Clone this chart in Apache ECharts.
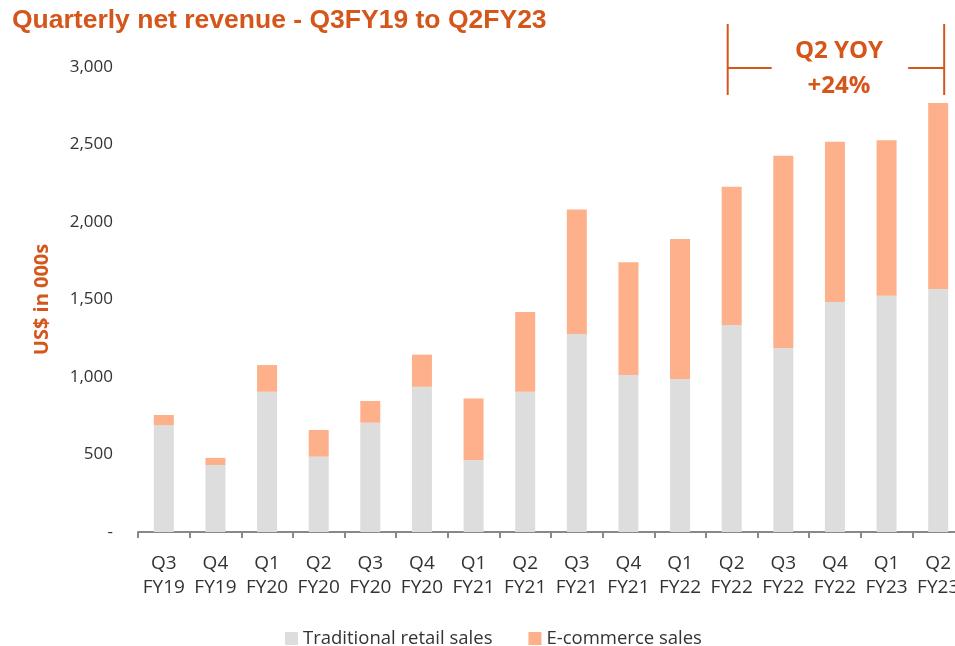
<!DOCTYPE html>
<html>
<head>
<meta charset="utf-8">
<script src="https://cdn.jsdelivr.net/npm/echarts@6/dist/echarts.min.js"></script>
<style>
  html, body { margin: 0; padding: 0; background: #fff; overflow: hidden; }
  /* a bit wider than the window: the last bar is cut at the right edge */
  #chart { width: 964px; height: 646px; }
</style>
</head>
<body>
<div id="chart"></div>
<script>
// quarters (two-line labels)
var quarters = ['Q3\nFY19', 'Q4\nFY19', 'Q1\nFY20', 'Q2\nFY20', 'Q3\nFY20', 'Q4\nFY20',
    'Q1\nFY21', 'Q2\nFY21', 'Q3\nFY21', 'Q4\nFY21', 'Q1\nFY22', 'Q2\nFY22',
    'Q3\nFY22', 'Q4\nFY22', 'Q1\nFY23', 'Q2\nFY23'];
// traditional retail (US$ 000s)
var retailSales = [690, 432, 905, 486, 705, 937, 465, 905, 1277, 1013, 987, 1335, 1187, 1484, 1525, 1568];
// total net revenue, e-commerce = total - retail
var totalRevenue = [755, 478, 1077, 658, 845, 1144, 862, 1419, 2080, 1740, 1890, 2228, 2428, 2518, 2527, 2768];
var ecomSales = totalRevenue.map(function (t, i) { return t - retailSales[i]; });

var orange = '#d4561a';
var font = 'Open Sans';

var chart = echarts.init(document.getElementById('chart'));

chart.setOption({
    animation: false,
    title: {
        text: 'Quarterly net revenue - Q3FY19 to Q2FY23',
        left: 7,
        top: 2,
        textStyle: { color: orange, fontSize: 26.5, fontWeight: 'bold', fontFamily: 'Liberation Sans' }
    },
    legend: {
        top: 624,
        left: 280,
        itemWidth: 13,
        itemHeight: 13,
        itemGap: 36,
        icon: 'rect',
        textStyle: { fontSize: 18.5, color: '#333', fontFamily: font },
        data: ['Traditional retail sales', 'E-commerce sales']
    },
    grid: {
        left: 138,
        right: 0,
        top: 67,
        bottom: 114
    },
    xAxis: {
        type: 'category',
        data: quarters,
        axisLine: { lineStyle: { color: '#888', width: 2 } },
        axisTick: { show: true, length: 6, lineStyle: { color: '#888', width: 2 } },
        axisLabel: {
            color: '#333', fontSize: 19, fontFamily: font,
            lineHeight: 24, margin: 20, interval: 0
        }
    },
    yAxis: {
        type: 'value',
        min: 0,
        max: 3000,
        interval: 500,
        name: 'US$ in 000s',
        nameLocation: 'middle',
        nameGap: 86,
        nameTextStyle: { color: orange, fontSize: 20, fontWeight: 'bold', fontFamily: font },
        splitLine: { show: false },
        axisLine: { show: false },
        axisTick: { show: false },
        axisLabel: {
            color: '#333', fontSize: 17, fontFamily: font, margin: 25,
            formatter: function (v) { return v === 0 ? '-' : v.toLocaleString('en-US'); }
        }
    },
    series: [
        {
            name: 'Traditional retail sales',
            type: 'bar',
            stack: 'rev',
            barWidth: 20,
            itemStyle: { color: '#dddddd' },
            data: retailSales
        },
        {
            name: 'E-commerce sales',
            type: 'bar',
            stack: 'rev',
            barWidth: 20,
            itemStyle: { color: '#fdb089' },
            data: ecomSales
        }
    ]
});

// YOY bracket between Q2FY22 and Q2FY23
var x1 = chart.convertToPixel({ xAxisIndex: 0 }, quarters[11]) - 4;
var x2 = chart.convertToPixel({ xAxisIndex: 0 }, quarters[15]) + 6;
var yTop = chart.convertToPixel({ yAxisIndex: 0 }, 3000);
var yMid = yTop + 1;
var xc = (x1 + x2) / 2 + 3;
var lineStyle = { stroke: orange, lineWidth: 2 };

chart.setOption({
    graphic: [
        { type: 'line', shape: { x1: x1, y1: yTop - 43, x2: x1, y2: yTop + 28 }, style: lineStyle },
        { type: 'line', shape: { x1: x2, y1: yTop - 43, x2: x2, y2: yTop + 28 }, style: lineStyle },
        { type: 'line', shape: { x1: x1, y1: yMid, x2: x1 + 44, y2: yMid }, style: lineStyle },
        { type: 'line', shape: { x1: x2 - 36, y1: yMid, x2: x2, y2: yMid }, style: lineStyle },
        {
            type: 'text', x: xc, y: yTop - 16,
            style: { text: 'Q2 YOY', fill: orange, font: 'bold 24px "Open Sans"', textAlign: 'center', textVerticalAlign: 'middle' }
        },
        {
            type: 'text', x: xc, y: yTop + 19,
            style: { text: '+24%', fill: orange, font: 'bold 24px "Open Sans"', textAlign: 'center', textVerticalAlign: 'middle' }
        }
    ]
});
</script>
</body>
</html>
